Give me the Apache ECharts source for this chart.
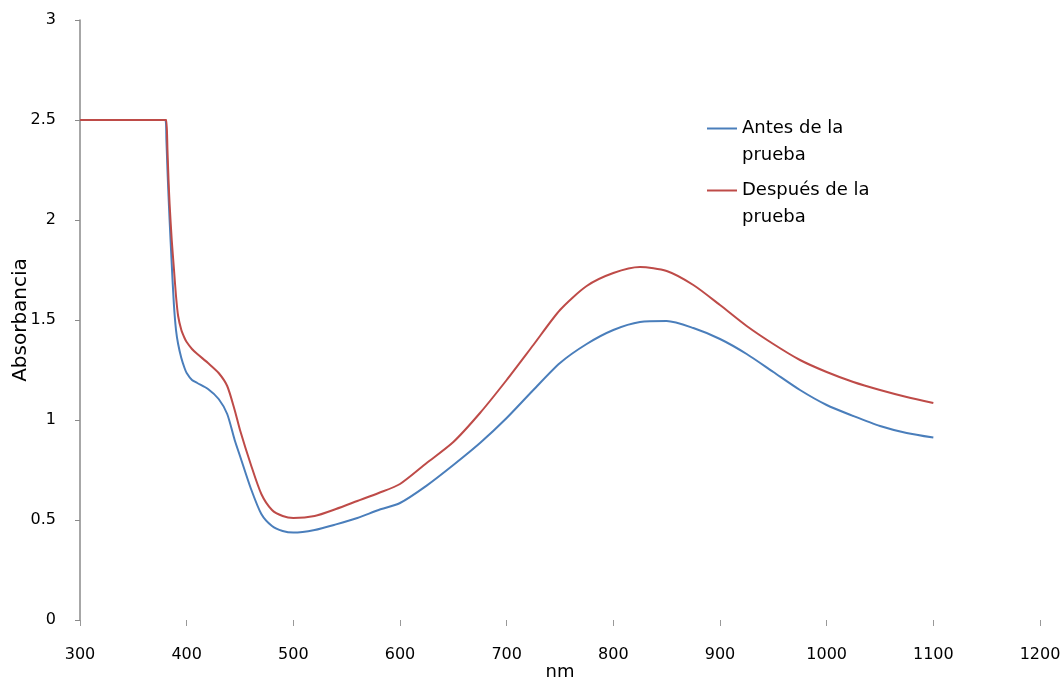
<!DOCTYPE html>
<html>
<head>
<meta charset="utf-8">
<script src="https://cdn.jsdelivr.net/npm/echarts@6/dist/echarts.min.js"></script>
<style>html,body{margin:0;padding:0;background:#fff}#c{width:1063px;height:682px}</style>
</head>
<body>
<div id="c"></div>
<script>
const wavelengths = [300,380,381,382,383,384,386,388,390,392,395,398,400,405,410,420,430,438,445,450,460,470,480,490,500,520,540,560,580,600,625,650,675,700,725,750,775,800,825,850,875,900,925,950,975,1000,1025,1050,1075,1100];
const antes = [2.5,2.5,2.4,2.25,2.12,2.0,1.78,1.58,1.45,1.38,1.31,1.26,1.235,1.2,1.185,1.155,1.105,1.03,0.9,0.82,0.66,0.53,0.47,0.445,0.437,0.45,0.478,0.51,0.55,0.585,0.672,0.775,0.885,1.01,1.15,1.285,1.38,1.45,1.49,1.495,1.46,1.405,1.33,1.24,1.15,1.075,1.02,0.97,0.935,0.912];
const despues = [2.5,2.5,2.5,2.35,2.2,2.08,1.9,1.76,1.62,1.52,1.45,1.41,1.39,1.355,1.33,1.285,1.235,1.17,1.05,0.95,0.78,0.63,0.55,0.52,0.51,0.52,0.555,0.595,0.635,0.68,0.785,0.89,1.035,1.2,1.375,1.55,1.67,1.735,1.765,1.745,1.675,1.575,1.47,1.38,1.3,1.24,1.19,1.15,1.115,1.085];
const seriesNames = ['Antes de la\nprueba', 'Después de la\nprueba'];

const chart = echarts.init(document.getElementById('c'));
const font = '"DejaVu Sans", "Liberation Sans", Arial, sans-serif';
chart.setOption({
  animation: false,
  textStyle: { fontFamily: font },
  grid: { left: 80, right: 23, top: 20, bottom: 62, containLabel: false, outerBoundsMode: 'none' },
  legend: {
    orient: 'vertical',
    left: 707,
    top: 88,
    padding: 0,
    icon: 'rect',
    itemWidth: 30,
    itemHeight: 2,
    itemGap: -19,
    formatter: name => ' \n' + name,
    textStyle: { fontSize: 18, color: '#000', lineHeight: 27, fontFamily: font },
    data: seriesNames
  },
  xAxis: {
    type: 'value',
    min: 300, max: 1200, interval: 100,
    name: 'nm', nameLocation: 'middle', nameGap: 43, nameMoveOverlap: false,
    nameTextStyle: { fontSize: 18, color: '#000', fontFamily: font },
    axisLine: { show: false },
    axisTick: { show: true, length: 6, lineStyle: { color: '#999' } },
    axisLabel: { fontSize: 16, color: '#000', margin: 27, fontFamily: font, formatter: v => String(v) },
    splitLine: { show: false }
  },
  yAxis: {
    type: 'value',
    min: 0, max: 3, interval: 0.5,
    name: 'Absorbancia', nameLocation: 'middle', nameGap: 49, nameMoveOverlap: false,
    nameTextStyle: { fontSize: 20, color: '#000', fontFamily: font },
    axisLine: { show: true, lineStyle: { color: '#8a8a8a', width: 1.5 } },
    axisTick: { show: true, length: 5, lineStyle: { color: '#8a8a8a' } },
    axisLabel: { fontSize: 16, color: '#000', margin: 24, fontFamily: font },
    splitLine: { show: false }
  },
  series: [
    { name: seriesNames[0], type: 'line', showSymbol: false, smooth: 0.25,
      lineStyle: { color: '#4A7EBB', width: 2 }, itemStyle: { color: '#4A7EBB' },
      data: wavelengths.map((w, i) => [w, antes[i]]) },
    { name: seriesNames[1], type: 'line', showSymbol: false, smooth: 0.25,
      lineStyle: { color: '#BE4B48', width: 2 }, itemStyle: { color: '#BE4B48' },
      data: wavelengths.map((w, i) => [w, despues[i]]) }
  ]
});
</script>
</body>
</html>
